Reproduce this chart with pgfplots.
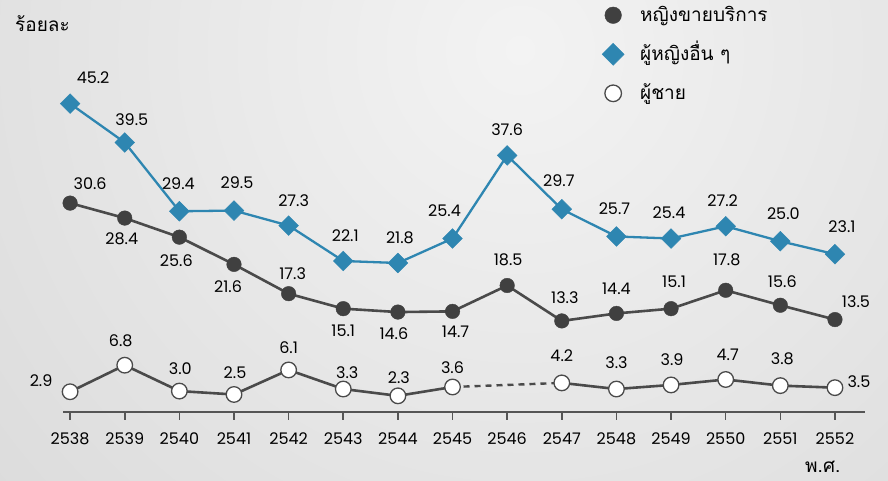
\documentclass[border=0pt]{standalone}
\usepackage{fontspec}
\usepackage{pgfplots}
\usepackage{pgfplotstable}
\pgfplotsset{compat=1.18}
\setmainfont{Poppins}
\newfontfamily\thaifont[Script=Thai]{Loma}
\definecolor{dk}{HTML}{404040}
\definecolor{dkline}{HTML}{4A4A4A}
\definecolor{bl}{HTML}{2E86B1}
\definecolor{axisgray}{HTML}{555555}
\definecolor{bgin}{HTML}{F3F3F3}
\definecolor{bgout}{HTML}{C4C4C4}
\newcommand{\numfont}{\fontsize{16}{19}\selectfont}
\newcommand{\thfont}{\thaifont\fontsize{19}{22}\selectfont}

\pgfplotstableread{
x y lab dx dy
2538 30.6 30.6 20 19
2539 28.4 28.4 -3 -21
2540 25.6 25.6 -3 -23
2541 21.6 21.6 -6 -22
2542 17.3 17.3 4 20
2543 15.1 15.1 0 -22
2544 14.6 14.6 -4 -22
2545 14.7 14.7 3 -20
2546 18.5 18.5 1 26
2547 13.3 13.3 3 23
2548 14.4 14.4 0 25
2549 15.1 15.1 3 27
2550 17.8 17.8 1 30
2551 15.6 15.6 2 24
2552 13.5 13.5 21 18
}\sexw

\pgfplotstableread{
x y lab dx dy
2538 45.2 45.2 23 26
2539 39.5 39.5 7 23
2540 29.4 29.4 -1 28
2541 29.5 29.5 3 28
2542 27.3 27.3 5 25
2543 22.1 22.1 2 25
2544 21.8 21.8 2 25
2545 25.4 25.4 -8 28
2546 37.6 37.6 0 26
2547 29.7 29.7 -3 29
2548 25.7 25.7 -2 28
2549 25.4 25.4 -2 26
2550 27.2 27.2 -3 26
2551 25.0 25.0 3 28
2552 23.1 23.1 7 28
}\otherw

\pgfplotstableread{
x y lab dx dy
2538 2.9 2.9 -29 11
2539 6.8 6.8 -4 24
2540 3.0 3.0 1 22
2541 2.5 2.5 1 22
2542 6.1 6.1 0 22
2543 3.3 3.3 4 16
2544 2.3 2.3 1 18
2545 3.6 3.6 0 19
}\menA

\pgfplotstableread{
x y lab dx dy
2547 4.2 4.2 0 27
2548 3.3 3.3 0 26
2549 3.9 3.9 1 25
2550 4.7 4.7 2 25
2551 3.8 3.8 2 27
2552 3.5 3.5 24 6
}\menB

\pgfplotstableread{
x y
2545 3.6
2547 4.2
}\menGap

\begin{document}
\begin{tikzpicture}
\useasboundingbox (0,0) rectangle (888pt,480pt);
\begin{scope}
\clip (0,0) rectangle (888pt,480pt);
\shade[inner color=bgin, outer color=bgout] (520pt,430pt) circle (1400pt);
\end{scope}
\node[anchor=base west, inner sep=0pt, font=\thfont] at (15pt,448.5pt) {ร้อยละ};
\node[anchor=base west, inner sep=0pt, font=\thfont] at (805pt,8pt) {พ.ศ.};
\begin{axis}[
  at={(63pt,68.5pt)}, anchor=south west,
  scale only axis, width=802pt, height=381.4pt,
  xmin=2537.87, xmax=2552.55, ymin=0, ymax=56,
  axis x line=bottom, axis y line=none,
  x axis line style={-, draw=axisgray, line width=2pt},
  ytick=\empty,
  xtick={2538,2539,2540,2541,2542,2543,2544,2545,2546,2547,2548,2549,2550,2551,2552},
  xticklabels={2538,2539,2540,2541,2542,2543,2544,2545,2546,2547,2548,2549,2550,2551,2552},
  tick align=outside, major tick length=8pt,
  xtick style={draw=axisgray, line width=1.6pt},
  xticklabel style={font=\numfont, inner sep=0pt, text=black, yshift=-13pt},
  clip=false,
  legend cell align=left,
  legend style={draw=none, fill=none, at={(0.672,1.067)}, anchor=north west,
    inner sep=0pt, row sep=17.5pt, column sep=16pt,
    nodes={inner sep=0pt, text height=17pt, text depth=4pt, font=\thfont}},
  legend image code/.code={\path[draw=none, fill=none] (-10pt,-10pt) rectangle (10pt,10pt); \draw[#1] plot coordinates {(0pt,0pt)};},
  lbl/.style={nodes near coords, point meta=explicit symbolic,
    visualization depends on=\thisrow{dx}\as\dx,
    visualization depends on=\thisrow{dy}\as\dy,
    nodes near coords style={anchor=center, xshift=\dx pt, yshift=\dy pt, font=\numfont, text=black, inner sep=0pt}},
]
\addplot[forget plot, draw=dkline, line width=2.6pt, mark=*, mark size=7.3pt,
  mark options={draw=dk, fill=dk, line width=0.4pt}, lbl] table[x=x, y=y, meta=lab]{\sexw};
\addplot[forget plot, draw=bl, line width=2.3pt, mark=square*, mark size=7pt,
  mark options={rotate=45, draw=bl, fill=bl, line width=0.4pt}, lbl] table[x=x, y=y, meta=lab]{\otherw};
\addplot[forget plot, draw=dkline, line width=2.4pt, dash pattern=on 6pt off 5pt] table[x=x, y=y]{\menGap};
\addplot[forget plot, draw=dkline, line width=2.6pt, mark=*, mark size=7.8pt,
  mark options={draw=dkline, fill=white, line width=1.3pt, solid}, lbl] table[x=x, y=y, meta=lab]{\menA};
\addplot[forget plot, draw=dkline, line width=2.6pt, mark=*, mark size=7.8pt,
  mark options={draw=dkline, fill=white, line width=1.3pt, solid}, lbl] table[x=x, y=y, meta=lab]{\menB};
\addlegendimage{only marks, mark=*, mark size=8.3pt, mark options={draw=dk, fill=dk, line width=0.4pt}}
\addlegendentry{หญิงขายบริการ}
\addlegendimage{only marks, mark=square*, mark size=7.8pt, mark options={rotate=45, draw=bl, fill=bl, line width=0.4pt}}
\addlegendentry{ผู้หญิงอื่น ๆ}
\addlegendimage{only marks, mark=*, mark size=8.3pt, mark options={draw=dkline, fill=white, line width=1.3pt}}
\addlegendentry{ผู้ชาย}
\end{axis}
\end{tikzpicture}
\end{document}
